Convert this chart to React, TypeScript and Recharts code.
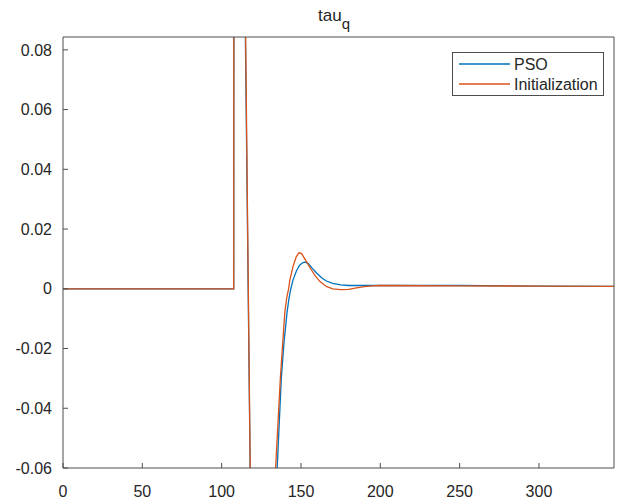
import { LineChart, Line, XAxis, YAxis, Customized } from "recharts";

// x positions and values (values beyond the y limits get clipped)
const psoX = [0, 50, 107.6, 108, 113.8, 118.8, 121, 126, 132, 135, 136.3, 137.6, 139.3, 141.2, 142.5, 143.6, 145, 147, 149, 151, 152.5, 154.5, 157, 160, 163, 166, 170, 175, 180, 187, 195, 200, 250, 300, 347.3];
const psoY = [0, 0, 0, 0.4, 0.14, -0.1, -0.2, -0.2, -0.1, -0.06, -0.045, -0.03, -0.018, -0.008, -0.003, 0, 0.003, 0.0058, 0.0078, 0.0087, 0.0089, 0.0085, 0.0069, 0.0052, 0.0037, 0.0026, 0.0018, 0.0013, 0.0011, 0.0011, 0.0011, 0.0011, 0.0011, 0.0009, 0.0008];

const initX = [0, 50, 107.6, 108, 114, 118.8, 121, 126, 131, 134, 135.5, 137, 138.5, 139.8, 141, 142.2, 143, 145, 147, 148.8, 150.5, 153, 156, 159, 162, 166, 170, 175, 180, 185, 190, 195, 200, 250, 300, 347.3];
const initY = [0, 0, 0, 0.4, 0.14, -0.1, -0.2, -0.2, -0.1, -0.06, -0.045, -0.03, -0.018, -0.008, -0.003, 0, 0.003, 0.0075, 0.0107, 0.0121, 0.0117, 0.0095, 0.0068, 0.0043, 0.0024, 0.0008, 0, -0.0003, -0.0002, 0.0003, 0.0007, 0.001, 0.0011, 0.001, 0.0009, 0.0008];

const xTicks = [0, 50, 100, 150, 200, 250, 300];
const yTicks = [-0.06, -0.04, -0.02, 0, 0.02, 0.04, 0.06, 0.08];
const seriesNames = ["PSO", "Initialization"];
const colors = ["#0072BD", "#D95319"];

const psoData = psoX.map((x, i) => ({ x, y: psoY[i] }));
const initData = initX.map((x, i) => ({ x, y: initY[i] }));

const FONT = '"Liberation Sans", Arial, sans-serif';
const AXIS = "#4d4d4d";
const X_DOMAIN = [0, 347.3];
const Y_DOMAIN = [-0.06, 0.0843];

const fmtY = (v: number) => (v === 0 ? "0" : v.toFixed(2));

const Title = () => (
  <text x={318} y={21} fontSize={17} fill="#262626" fontFamily={FONT}>
    tau
    <tspan dy={8} fontSize={15}>q</tspan>
  </text>
);

const LegendBox = () => (
  <g fontFamily={FONT}>
    <rect x={452.5} y={52.5} width={151} height={43} fill="#fff" stroke={AXIS} strokeWidth={1} />
    {seriesNames.map((name, i) => (
      <g key={name}>
        <line x1={459} x2={510} y1={64 + i * 20} y2={64 + i * 20} stroke={colors[i]} strokeWidth={1.3} />
        <text x={514} y={69.5 + i * 20} fontSize={16} fill="#262626">{name}</text>
      </g>
    ))}
  </g>
);

export default function App() {
  return (
    <div style={{ position: "absolute", left: 0, top: 0, background: "#fff" }}>
      <LineChart width={621} height={504} margin={{ top: 36, right: 6, bottom: 0, left: 0 }}>
        <XAxis
          xAxisId="b"
          dataKey="x"
          type="number"
          domain={X_DOMAIN}
          ticks={xTicks}
          allowDataOverflow
          height={36}
          stroke={AXIS}
          tickSize={-5}
          tickMargin={23}
          tick={{ fill: "#262626", fontSize: 16, fontFamily: FONT }}
        />
        <XAxis
          xAxisId="t"
          orientation="top"
          dataKey="x"
          type="number"
          domain={X_DOMAIN}
          ticks={xTicks}
          allowDataOverflow
          height={1}
          stroke={AXIS}
          tickSize={-5}
          tick={false}
        />
        <YAxis
          yAxisId="l"
          type="number"
          domain={Y_DOMAIN}
          ticks={yTicks}
          allowDataOverflow
          width={63}
          stroke={AXIS}
          tickSize={-5}
          tickMargin={16}
          tickFormatter={fmtY}
          tick={{ fill: "#262626", fontSize: 16, fontFamily: FONT }}
        />
        <YAxis
          yAxisId="r"
          orientation="right"
          type="number"
          domain={Y_DOMAIN}
          ticks={yTicks}
          allowDataOverflow
          width={1}
          stroke={AXIS}
          tickSize={-5}
          tick={false}
        />
        {/* invisible series so the top / right box axes get drawn */}
        <Line
          xAxisId="t"
          yAxisId="r"
          data={psoData}
          dataKey="y"
          stroke="transparent"
          strokeOpacity={0}
          strokeWidth={0}
          dot={false}
          activeDot={false}
          legendType="none"
          isAnimationActive={false}
        />
        <Line
          xAxisId="b"
          yAxisId="l"
          data={psoData}
          dataKey="y"
          name={seriesNames[0]}
          type="linear"
          stroke={colors[0]}
          strokeWidth={1.3}
          dot={false}
          isAnimationActive={false}
        />
        <Line
          xAxisId="b"
          yAxisId="l"
          data={initData}
          dataKey="y"
          name={seriesNames[1]}
          type="linear"
          stroke={colors[1]}
          strokeWidth={1.3}
          dot={false}
          isAnimationActive={false}
        />
        <Customized component={Title} />
        <Customized component={LegendBox} />
      </LineChart>
    </div>
  );
}
